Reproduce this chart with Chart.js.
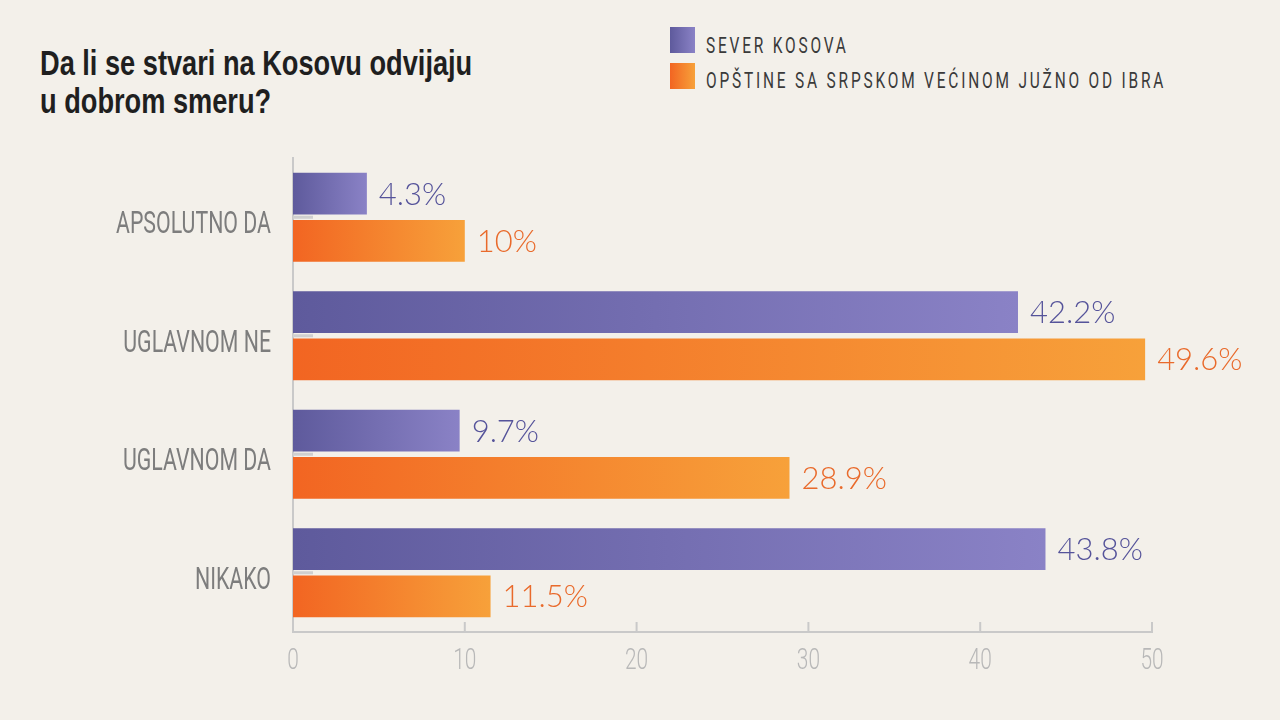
<!DOCTYPE html>
<html>
<head>
<meta charset="utf-8">
<script src="https://cdn.jsdelivr.net/npm/chart.js@4"></script>
<style>
  body { margin: 0; background: #f3f0ea; width: 1280px; height: 720px; overflow: hidden; position: relative; }
  #chartWrap { position: absolute; left: 0; top: 0; width: 1280px; height: 720px; }
  .title { position: absolute; left: 40px; font-family: 'Liberation Sans', sans-serif; font-weight: bold;
           font-size: 35px; line-height: 38px; color: #1f1f1f; white-space: nowrap; transform-origin: 0 0; }
  .swatch { position: absolute; left: 670px; width: 25px; height: 26px; }
  .legendText { position: absolute; left: 706px; font-family: Roboto, sans-serif; font-size: 22px;
                line-height: 22px; letter-spacing: 4px; color: #3a3a3a; white-space: nowrap; transform-origin: 0 0; }
</style>
</head>
<body>
<div class="title" id="title1" style="top:44px">Da li se stvari na Kosovu odvijaju</div>
<div class="title" id="title2" style="top:82px">u dobrom smeru?</div>
<div class="swatch" style="top:27px;background:linear-gradient(to right,#5e5a9c,#8a82c6)"></div>
<div class="swatch" style="top:63px;background:linear-gradient(to right,#f26522,#f7a13a)"></div>
<div class="legendText" id="leg1" style="top:35px"></div>
<div class="legendText" id="leg2" style="top:70px"></div>
<div id="chartWrap"><canvas id="chart" width="1280" height="720"></canvas></div>
<script>
// chart data
const categories = ['APSOLUTNO DA', 'UGLAVNOM NE', 'UGLAVNOM DA', 'NIKAKO'];
const seriesNames = ['SEVER KOSOVA', 'OPŠTINE SA SRPSKOM VEĆINOM JUŽNO OD IBRA'];
const severKosova = [4.3, 42.2, 9.7, 43.8];
const juznoOdIbra = [10, 49.6, 28.9, 11.5];
const xTicks = [0, 10, 20, 30, 40, 50];

const purple = { from: '#5e5a9c', to: '#8a82c6', text: '#55539a' };
const orange = { from: '#f26522', to: '#f7a13a', text: '#e96a2b' };

// fit the html title / legend to the condensed look of the original
document.getElementById('leg1').textContent = seriesNames[0];
document.getElementById('leg2').textContent = seriesNames[1];
const t1 = document.getElementById('title1');
const titleScale = 432 / t1.offsetWidth;
['title1', 'title2'].forEach(id => document.getElementById(id).style.transform = 'scaleX(' + titleScale + ')');
const legScale = 460 / document.getElementById('leg2').offsetWidth;
['leg1', 'leg2'].forEach(id => document.getElementById(id).style.transform = 'scaleX(' + legScale + ')');

function barGradient(c, col) {
    const chart = c.chart;
    const x = chart.scales && chart.scales.x;
    if (!chart.chartArea || !x || c.raw == null) return col.from;
    const x0 = x.getPixelForValue(0);
    const x1 = x.getPixelForValue(c.raw);
    if (!isFinite(x0) || !isFinite(x1) || x1 <= x0) return col.from;
    const g = chart.ctx.createLinearGradient(x0, 0, x1, 0);
    g.addColorStop(0, col.from);
    g.addColorStop(1, col.to);
    return g;
}

function narrowText(ctx, text, x, y, align, sx) {
    ctx.save();
    ctx.translate(x, y);
    ctx.scale(sx, 1);
    ctx.textAlign = align;
    ctx.fillText(text, 0, 0);
    ctx.restore();
}

const decorations = {
    id: 'decorations',
    beforeDatasetsDraw(chart) {
        const ctx = chart.ctx;
        const y = chart.scales.y;
        const left = chart.chartArea.left;
        ctx.save();
        ctx.strokeStyle = '#cfcfcf';
        ctx.lineWidth = 3;
        categories.forEach((c, i) => {
            const py = y.getPixelForValue(i);
            ctx.beginPath();
            ctx.moveTo(left, py);
            ctx.lineTo(left + 20, py);
            ctx.stroke();
        });
        ctx.restore();
    },
    afterDraw(chart) {
        const ctx = chart.ctx;
        const x = chart.scales.x;
        const y = chart.scales.y;
        const area = chart.chartArea;
        ctx.save();

        // upward x ticks and labels
        ctx.strokeStyle = '#c9c9c9';
        ctx.lineWidth = 2;
        ctx.font = '300 29px Roboto';
        const tickScale = 0.72;
        ctx.fillStyle = '#b8b8b8';
        xTicks.forEach(v => {
            const px = x.getPixelForValue(v);
            ctx.beginPath();
            ctx.moveTo(px, area.bottom);
            ctx.lineTo(px, area.bottom - 10);
            ctx.stroke();
            narrowText(ctx, String(v), px, area.bottom + 37, 'center', tickScale);
        });

        // category labels
        ctx.font = '31px Roboto';
        const catScale = 155 / ctx.measureText(categories[0]).width;
        ctx.fillStyle = '#7d7d7d';
        categories.forEach((c, i) => {
            narrowText(ctx, c, area.left - 22, y.getPixelForValue(i) + 16, 'right', catScale);
        });

        // value labels
        ctx.font = '300 31px Lato';
        ctx.textAlign = 'left';
        [[severKosova, purple], [juznoOdIbra, orange]].forEach(([vals, col], di) => {
            const meta = chart.getDatasetMeta(di);
            ctx.fillStyle = col.text;
            meta.data.forEach((bar, i) => {
                ctx.fillText(vals[i] + '%', bar.x + 12, bar.y + 11);
            });
        });
        ctx.restore();
    }
};

new Chart(document.getElementById('chart').getContext('2d'), {
    type: 'bar',
    data: {
        labels: categories,
        datasets: [{
            label: seriesNames[0],
            data: severKosova,
            backgroundColor: c => barGradient(c, purple),
            borderWidth: 0,
            categoryPercentage: 0.8,
            barPercentage: 0.88
        }, {
            label: seriesNames[1],
            data: juznoOdIbra,
            backgroundColor: c => barGradient(c, orange),
            borderWidth: 0,
            categoryPercentage: 0.8,
            barPercentage: 0.88
        }]
    },
    options: {
        indexAxis: 'y',
        responsive: false,
        animation: false,
        layout: { padding: { top: 158, right: 128, left: 0, bottom: 0 } },
        plugins: {
            legend: { display: false },
            title: { display: false },
            tooltip: { enabled: false }
        },
        scales: {
            x: {
                min: 0,
                max: 50,
                grid: { display: false },
                border: { display: true, color: '#c9c9c9', width: 2 },
                ticks: { display: false },
                afterFit: s => { s.height = 88; }
            },
            y: {
                grid: { display: false },
                border: { display: true, color: '#c9c9c9', width: 2 },
                ticks: { display: false },
                afterFit: s => { s.width = 293; }
            }
        }
    },
    plugins: [decorations]
});
</script>
</body>
</html>
